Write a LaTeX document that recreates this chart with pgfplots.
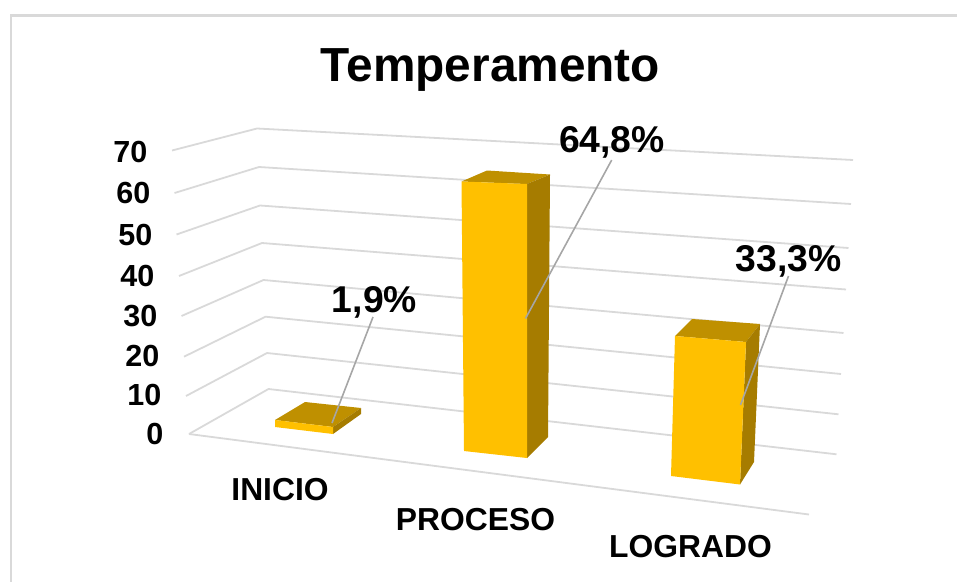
\documentclass[border=0pt]{standalone}
\usepackage{pgfplots}
\usepackage{fontspec}
\setmainfont{Liberation Sans}
\pgfplotsset{compat=1.18}
\definecolor{barfront}{HTML}{FFC000}
\definecolor{bartop}{HTML}{BF9000}
\definecolor{barside}{HTML}{A67C00}
\definecolor{gridc}{HTML}{D9D9D9}
\definecolor{leader}{HTML}{A6A6A6}
\newcommand{\fs}[1]{\fontsize{#1bp}{#1bp}\selectfont\bfseries}
\tikzset{
  gl/.style={draw=gridc, line width=1.8bp},
  face/.style={draw=none, fill=#1},
  lead/.style={draw=leader, line width=1.6bp},
  lab/.style={anchor=base, inner sep=0pt, font=\fs{#1}},
  tk/.style={anchor=base east, inner sep=0pt, font=\fs{30.5}},
}
\begin{document}
\begin{tikzpicture}
\begin{axis}[
  scale only axis, width=957bp, height=582bp,
  xmin=0, xmax=957, ymin=0, ymax=582, y dir=reverse,
  axis lines=none, clip=true,
]
% page corners and chart frame
\addplot[draw=none] coordinates {(0,0) (957,582)};
\addplot[draw=gridc, line width=2.2bp] coordinates {(11,582) (11,15.5) (957,15.5)};
% grid lines, 70 ... 0
\addplot[gl] coordinates {(172,150.5) (257,128.5) (853,160)};
\addplot[gl] coordinates {(174.5,193) (259,167) (851,204)};
\addplot[gl] coordinates {(176.5,234.5) (260,205.5) (848.5,248)};
\addplot[gl] coordinates {(179,276) (262,243) (846,289.5)};
\addplot[gl] coordinates {(181.5,316) (263.5,280) (843.5,333)};
\addplot[gl] coordinates {(184,356.7) (265.5,316.7) (841,374)};
\addplot[gl] coordinates {(186,396) (267,353) (838.5,414.3)};
\addplot[gl] coordinates {(189,434) (268.5,389) (836.5,454.3)};
\addplot[gl] coordinates {(189,434) (809,514.5)};
% INICIO 1.9
\addplot[face=bartop] coordinates {(275,420) (305,402) (361,408) (333,427)} -- cycle;
\addplot[face=barside] coordinates {(333,427) (361,408) (361,414) (333,434)} -- cycle;
\addplot[face=barfront] coordinates {(275,420) (333,427) (333,434) (275,427)} -- cycle;
% PROCESO 64.8
\addplot[face=bartop] coordinates {(461.5,181.5) (487,170.5) (550,174.5) (527,184)} -- cycle;
\addplot[face=barside] coordinates {(527,184) (550,174.5) (548,437) (527,458)} -- cycle;
\addplot[face=barfront] coordinates {(461.5,181.5) (527,184) (527,458) (464,451)} -- cycle;
% LOGRADO 33.3
\addplot[face=bartop] coordinates {(675,336) (692,319) (760,324) (746,342)} -- cycle;
\addplot[face=barside] coordinates {(746,342) (760,324) (754,462) (740,484.5)} -- cycle;
\addplot[face=barfront] coordinates {(675,336) (746,342) (740,484.5) (671,476)} -- cycle;
% leader lines
\addplot[lead] coordinates {(373,317) (332,423)};
\addplot[lead] coordinates {(611.7,160) (525.5,318.5)};
\addplot[lead] coordinates {(788.5,276) (740.5,405)};
% texts
\node[lab=47.8] at (axis cs:490.5,82) {Temperamento};
\node[tk] at (axis cs:147.5,162) {70};
\node[tk] at (axis cs:150.5,203.5) {60};
\node[tk] at (axis cs:152.5,245.5) {50};
\node[tk] at (axis cs:154.5,286.5) {40};
\node[tk] at (axis cs:157.5,326.5) {30};
\node[tk] at (axis cs:159.5,366) {20};
\node[tk] at (axis cs:161.5,405) {10};
\node[tk] at (axis cs:163.5,444) {0};
\node[lab=37.3] at (axis cs:374.5,312) {1,9\%};
\node[lab=37.3] at (axis cs:612,152) {64,8\%};
\node[lab=37.3] at (axis cs:788.5,271) {33,3\%};
\node[lab=31.8] at (axis cs:280,500) {INICIO};
\node[lab=31.8] at (axis cs:475.5,530) {PROCESO};
\node[lab=31.8] at (axis cs:690.5,557.7) {LOGRADO};
\end{axis}
\end{tikzpicture}
\end{document}
